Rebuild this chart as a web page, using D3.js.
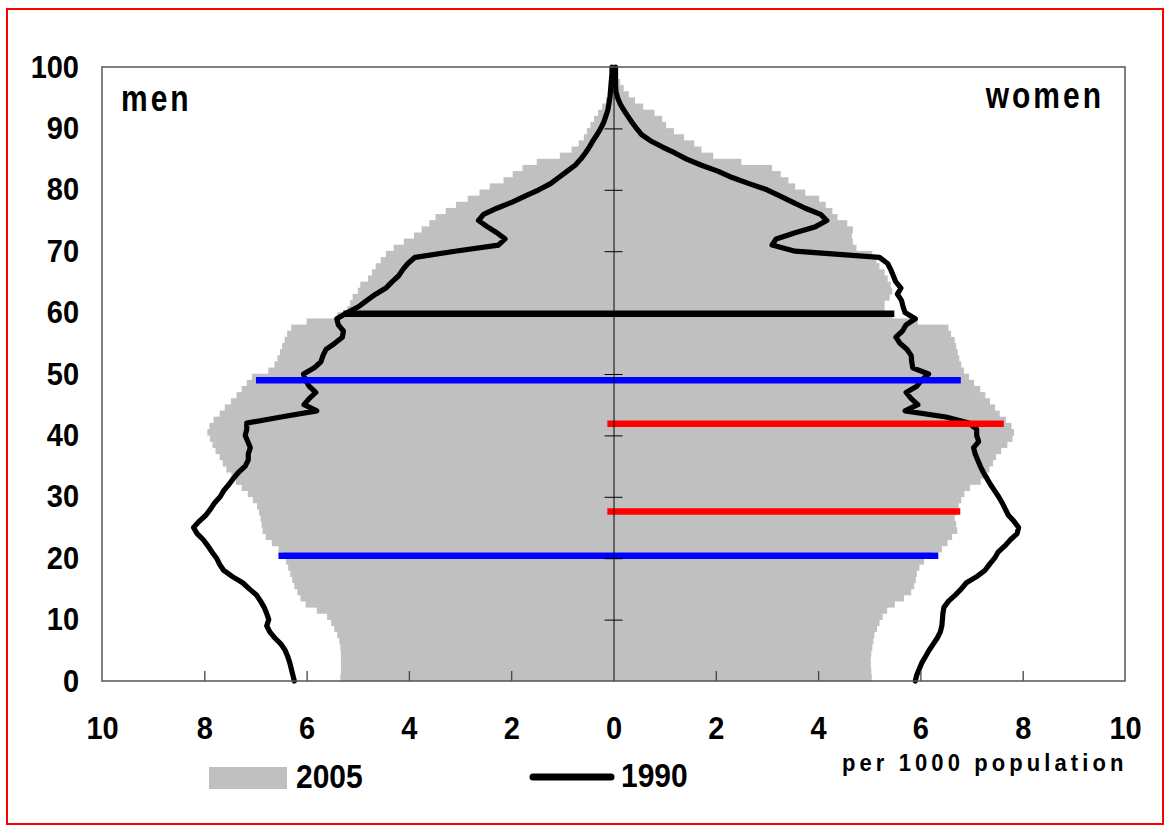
<!DOCTYPE html>
<html><head><meta charset="utf-8">
<script src="https://cdn.jsdelivr.net/npm/d3@7"></script>
<style>
body{margin:0;background:#fff;}
svg{display:block;}
text{font-family:"Liberation Sans",Arial,Helvetica,sans-serif;}
.tall{transform-box:fill-box;transform-origin:center;transform:scale(1,1.08);}
.taller{transform-box:fill-box;transform-origin:center;transform:scale(1,1.2);}
</style>
</head><body>
<svg id="chart" width="1164" height="825"></svg>
<script>
// ---------- DATA ----------
const ageTicks = [0,10,20,30,40,50,60,70,80,90,100];
const valueTicks = [-10,-8,-6,-4,-2,0,2,4,6,8,10];

// 2005 distribution (per 1000 population), ages 0..99
const men2005 = [5.34,5.33,5.33,5.33,5.33,5.34,5.36,5.40,5.46,5.52,
 5.60,5.80,6.02,6.12,6.18,6.24,6.28,6.32,6.36,6.40,
 6.46,6.55,6.68,6.80,6.86,6.88,6.90,6.93,6.97,7.05,
 7.15,7.27,7.38,7.47,7.57,7.64,7.70,7.78,7.84,7.89,
 7.94,7.90,7.82,7.70,7.60,7.48,7.37,7.27,7.17,7.07,
 6.75,6.63,6.57,6.52,6.48,6.43,6.38,6.30,6.00,5.40,
 5.20,5.15,5.10,5.00,4.95,4.80,4.72,4.65,4.55,4.45,
 4.30,4.10,3.90,3.75,3.60,3.48,3.28,3.08,2.85,2.62,
 2.42,2.15,1.97,1.78,1.50,1.05,0.82,0.68,0.58,0.52,
 0.45,0.38,0.30,0.22,0.15,0.10,0.07,0.05,0.03,0.02];

const women2005 = [5.05,5.04,5.03,5.03,5.04,5.06,5.08,5.10,5.15,5.20,
 5.26,5.35,5.50,5.68,5.82,5.88,5.91,5.93,5.98,6.07,
 6.25,6.42,6.53,6.62,6.72,6.70,6.67,6.70,6.75,6.80,
 6.86,6.97,7.18,7.28,7.35,7.42,7.48,7.58,7.70,7.80,
 7.83,7.78,7.67,7.55,7.46,7.36,7.27,7.17,7.05,6.95,
 6.85,6.80,6.76,6.73,6.70,6.67,6.60,6.55,5.95,5.45,
 5.30,5.30,5.40,5.45,5.42,5.36,5.30,5.20,5.14,5.06,
 4.75,4.68,4.66,4.68,4.57,4.38,4.28,4.15,4.02,3.75,
 3.55,3.42,3.27,3.10,2.50,1.95,1.72,1.58,1.38,1.18,
 1.03,0.95,0.80,0.58,0.42,0.30,0.20,0.13,0.08,0.05];

// 1990 distribution, ages 0..100
const men1990 = [6.24,6.27,6.30,6.33,6.37,6.42,6.50,6.62,6.72,6.78,
 6.74,6.78,6.83,6.90,6.98,7.12,7.25,7.45,7.62,7.70,
 7.76,7.85,7.93,8.02,8.14,8.21,8.10,7.97,7.88,7.80,
 7.69,7.62,7.52,7.43,7.33,7.20,7.14,7.14,7.10,7.15,
 7.20,7.17,7.17,6.50,5.80,6.05,5.95,5.82,5.95,6.02,
 6.06,5.85,5.72,5.68,5.62,5.45,5.30,5.28,5.38,5.41,
 5.20,4.98,4.82,4.65,4.45,4.33,4.20,4.12,4.02,3.88,
 3.10,2.25,2.12,2.28,2.47,2.64,2.54,2.28,1.98,1.72,
 1.46,1.23,1.07,0.91,0.75,0.64,0.55,0.47,0.40,0.32,
 0.25,0.19,0.15,0.11,0.09,0.07,0.06,0.05,0.04,0.03,0.03];

const women1990 = [5.90,5.93,5.98,6.03,6.10,6.17,6.25,6.33,6.39,6.42,
 6.43,6.44,6.46,6.55,6.68,6.80,6.90,7.10,7.26,7.35,
 7.45,7.52,7.65,7.76,7.89,7.92,7.83,7.72,7.66,7.60,
 7.53,7.45,7.37,7.30,7.23,7.17,7.12,7.07,7.04,7.14,
 7.10,7.10,6.95,6.50,5.70,5.95,5.82,5.72,5.93,6.02,
 6.16,5.85,5.83,5.82,5.74,5.60,5.52,5.65,5.72,5.90,
 5.70,5.66,5.63,5.55,5.62,5.52,5.47,5.42,5.36,5.20,
 3.55,3.10,3.18,3.55,3.95,4.17,4.05,3.75,3.50,3.25,
 3.00,2.65,2.32,2.05,1.72,1.43,1.20,0.95,0.72,0.55,
 0.45,0.36,0.28,0.20,0.13,0.08,0.05,0.04,0.04,0.04,0.04];

// highlighted cohorts: age, from (men side negative), to (women side)
const markAges = [59.8, 49.0, 41.9, 27.6, 20.4];
const markFrom = [-5.28, -6.99, -0.12, -0.12, -6.55];
const markTo   = [5.49, 6.79, 7.63, 6.78, 6.35];
const markColors = ["#000000", "#0000ff", "#ff0000", "#ff0000", "#0000ff"];

const legendLabels = ["2005", "1990"];
const sideLabels = ["men", "women"];
const unitLabel = "per 1000 population";

// ---------- DRAW ----------
const svg = d3.select("#chart");
const x = d3.scaleLinear().domain([-10, 10]).range([102, 1125]);
const y = d3.scaleLinear().domain([0, 100]).range([681, 67]);

// page border
svg.append("rect").attr("x", 7).attr("y", 9).attr("width", 1156).attr("height", 815)
  .attr("fill", "none").attr("stroke", "#ff0000").attr("stroke-width", 2);

// 2005 bars
const g = svg.append("g");
g.selectAll("rect.m").data(men2005).join("rect").attr("class", "m")
  .attr("x", d => x(-d)).attr("width", d => x(0) - x(-d))
  .attr("y", (d, i) => y(i + 1) - 0.3).attr("height", (d, i) => y(i) - y(i + 1) + 0.6)
  .attr("fill", "#c0c0c0");
g.selectAll("rect.w").data(women2005).join("rect").attr("class", "w")
  .attr("x", x(0)).attr("width", d => x(d) - x(0))
  .attr("y", (d, i) => y(i + 1) - 0.3).attr("height", (d, i) => y(i) - y(i + 1) + 0.6)
  .attr("fill", "#c0c0c0");

// 1990 lines
const lineM = d3.line().x(d => x(-d)).y((d, i) => y(i));
const lineW = d3.line().x(d => x(d)).y((d, i) => y(i));
[lineM(men1990), lineW(women1990)].forEach(p => {
  svg.append("path").attr("d", p).attr("fill", "none").attr("stroke", "#000")
    .attr("stroke-width", 5.2).attr("stroke-linejoin", "round").attr("stroke-linecap", "round");
});

// cohort marker lines
svg.selectAll("line.mark").data(markAges).join("line").attr("class", "mark")
  .attr("x1", (d, i) => x(markFrom[i])).attr("x2", (d, i) => x(markTo[i]))
  .attr("y1", d => y(d)).attr("y2", d => y(d))
  .attr("stroke", (d, i) => markColors[i]).attr("stroke-width", 6.5);

// center axis with age ticks
const inner = ageTicks.filter(a => a > 0 && a < 100);
const cx = x(0);
svg.append("g").attr("transform", `translate(${cx},0)`)
  .call(d3.axisLeft(y).tickValues(inner).tickSize(9).tickSizeOuter(0).tickFormat(""))
  .call(s => s.selectAll("path,line").attr("stroke", "#000").attr("stroke-width", 1));
svg.append("g").attr("transform", `translate(${cx},0)`)
  .call(d3.axisRight(y).tickValues(inner).tickSize(9).tickSizeOuter(0).tickFormat(""))
  .call(s => s.select("path").remove())
  .call(s => s.selectAll("line").attr("stroke", "#000").attr("stroke-width", 1));

// y labels (left)
svg.append("g").attr("transform", "translate(102,0)")
  .call(d3.axisLeft(y).tickValues(ageTicks).tickSize(0).tickPadding(23).tickFormat(d3.format("d")))
  .call(s => s.select("path").remove())
  .call(s => s.selectAll("text").attr("font-size", 29).attr("font-weight", "bold").attr("class", "tall")
    .attr("fill", "#000").attr("font-family", "'Liberation Sans',Arial,sans-serif"));

// x axis (ticks inside, labels below)
svg.append("g").attr("transform", "translate(0,681)")
  .call(d3.axisBottom(x).tickValues(valueTicks).tickSize(-10).tickPadding(37)
    .tickFormat(d => Math.abs(d)))
  .call(s => s.select("path").remove())
  .call(s => s.selectAll(".tick line").attr("stroke", "#444").attr("stroke-width", 1.3)
    .filter(d => d === 0 || Math.abs(d) === 10).remove())
  .call(s => s.selectAll("text").attr("font-size", 29).attr("font-weight", "bold").attr("class", "tall")
    .attr("fill", "#000").attr("font-family", "'Liberation Sans',Arial,sans-serif"));

// plot frame
svg.append("rect").attr("x", x(-10)).attr("y", y(100))
  .attr("width", x(10) - x(-10)).attr("height", y(0) - y(100))
  .attr("fill", "none").attr("stroke", "#555").attr("stroke-width", 1.5);

// side labels
svg.append("text").attr("x", 121).attr("y", 109).text(sideLabels[0]).attr("class", "taller")
  .attr("font-size", 30).attr("font-weight", "bold").attr("letter-spacing", 3);
svg.append("text").attr("x", 1104).attr("y", 106).attr("text-anchor", "end").text(sideLabels[1])
  .attr("class", "taller")
  .attr("font-size", 30).attr("font-weight", "bold").attr("letter-spacing", 3);

// unit label
svg.append("text").attr("x", 842).attr("y", 770).text(unitLabel).attr("class", "tall")
  .attr("font-size", 22).attr("font-weight", "bold").attr("letter-spacing", 4.1);

// legend
svg.append("rect").attr("x", 209).attr("y", 767).attr("width", 78).attr("height", 22).attr("fill", "#c0c0c0");
svg.append("text").attr("x", 296).attr("y", 787).text(legendLabels[0]).attr("class", "tall")
  .attr("font-size", 30).attr("font-weight", "bold");
svg.append("line").attr("x1", 533).attr("x2", 611).attr("y1", 777).attr("y2", 777)
  .attr("stroke", "#000").attr("stroke-width", 7).attr("stroke-linecap", "round");
svg.append("text").attr("x", 621).attr("y", 786).text(legendLabels[1]).attr("class", "tall")
  .attr("font-size", 30).attr("font-weight", "bold");
</script>
</body></html>
